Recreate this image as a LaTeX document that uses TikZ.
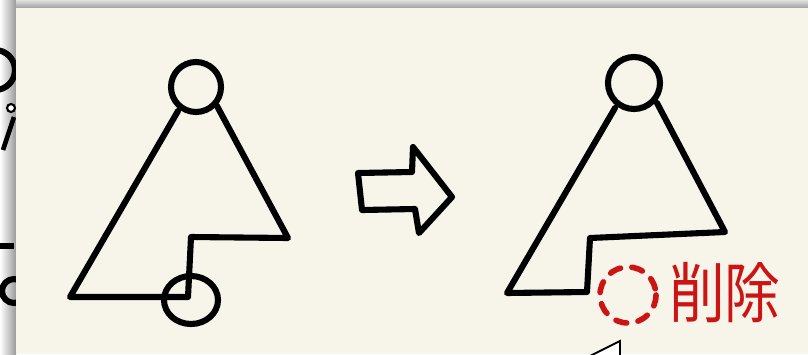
\documentclass[tikz,border=0pt]{standalone}
\usepackage{fontspec}
\newfontfamily\jpfont{Noto Sans CJK JP}
\definecolor{paper}{RGB}{247,245,234}
\definecolor{delred}{RGB}{204,20,20}
\tikzset{
  pen/.style={line width=5.2pt, line cap=round, line join=round},
  redpen/.style={line width=4.8pt, draw=delred, line cap=round,
                 dash pattern=on 9.5pt off 9.8pt},
}
\newcommand{\sizes}{
\def\rhead{25}   % head circle radius (px)
\def\rcut{28}    % cut-off circle radius
}

\begin{document}
\begin{tikzpicture}[x=0.03cm,y=-0.03cm]
  \sizes
  \useasboundingbox (0,0) rectangle (808,354);
  \fill[white] (0,0) rectangle (808,354);
  \shade[left color=white, right color=black!40] (0,0) rectangle (16,354);
  \shade[top color=black!12, bottom color=black!38] (16,0) rectangle (808,8);
%
  % pieces of the slide behind
  \draw[pen] (-5,70) circle [radius=20];
  \draw[line width=4pt] (14,117) -- (3,150);
  \draw[line width=4.5pt] (0,246) -- (14,246);
  \draw[pen] (14,291) circle [radius=12];
  \filldraw[fill=white, draw=black, line width=1.8pt] (11,108) circle [radius=4];
%
  \fill[paper] (16,8) rectangle (808,354);
%
  % before
  \draw[pen] (196,87) circle [radius=\rhead];
  \draw[pen] (178,111) -- (70,297) -- (188,297) -- (191,237) -- (288,238) -- (217,106);
  \draw[pen] (191,300) ellipse [x radius=27, y radius=24];
%
  % arrow
  \draw[pen] (358,173) -- (412,172) -- (413,147) -- (452,197)
             -- (419,233) -- (415,209) -- (362,210) -- cycle;
%
  % after
  \draw[pen] (634,83) circle [radius=26];
  \draw[pen] (615,108) -- (507,293) -- (587,292) -- (590,238) -- (725,232) -- (657,103);
  \draw[redpen] (628,295) circle [radius=\rcut];
  \node[text=delred, font=\jpfont\fontsize{56}{56}\selectfont,
        xscale=0.85, transform shape, anchor=west, inner sep=0pt] (sakujo) at (669,293) {削除};
%
  % corner of a callout on top
  \filldraw[fill=white, draw=black, line width=1.6pt] (588,357) -- (620,341) -- (620,357);
\end{tikzpicture}
\end{document}
